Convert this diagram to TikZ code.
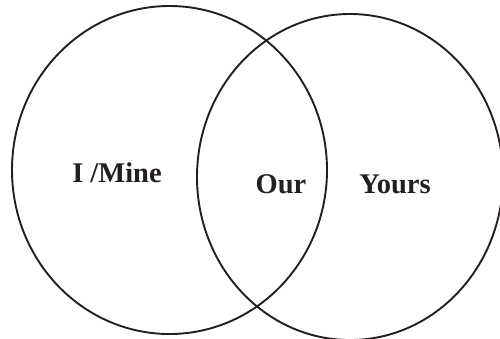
\documentclass[tikz,border=0pt]{standalone}
\usepackage{fontspec}
\setmainfont{Liberation Serif}
\usetikzlibrary{shapes.geometric, positioning}
\definecolor{inkblack}{HTML}{231F20}

\begin{document}
\begin{tikzpicture}[
  x=1pt, y=-1pt,
  set/.style={ellipse, draw=inkblack, line width=1.9pt, inner sep=0pt},
  label/.style={font=\fontsize{28.5}{30}\selectfont\bfseries, text=inkblack, anchor=base, inner sep=0pt}
]
  \useasboundingbox (0,0) rectangle (500,338);
  \node[set, minimum width=315pt, minimum height=328pt] (mine) at (169.5,170) {};
  \node[set, minimum width=306pt, minimum height=326pt] (yours) at (350,177) {};

  \node[label] (minetext) at (117,182) {I /Mine};
  \node[label] (ourtext) at (281,193) {Our};
  \node[label] (yourstext) at (395,193) {Yours};
\end{tikzpicture}
\end{document}
